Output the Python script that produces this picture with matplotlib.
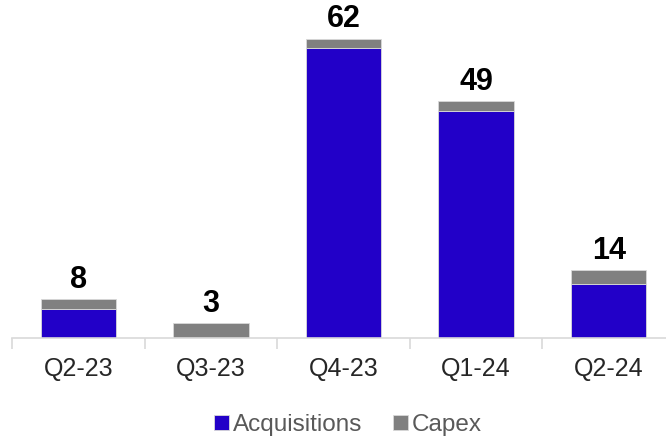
import matplotlib.pyplot as plt
import numpy as np

quarters = ['Q2-23', 'Q3-23', 'Q4-23', 'Q1-24', 'Q2-24']
acquisitions = [6, 0, 60, 47, 11]
capex = [2, 3, 2, 2, 3]
totals = [8, 3, 62, 49, 14]

blue = '#2200c8'
grey = '#808080'

plt.rcParams['font.family'] = ['Liberation Sans', 'DejaVu Sans']

fig = plt.figure(figsize=(6.66, 4.4), dpi=100)
# axis runs slightly past the right edge of the figure
ax = fig.add_axes([12 / 666, 102.5 / 440, 663 / 666, 337.5 / 440])

x = np.arange(len(quarters))
acq = np.array(acquisitions)
cap = np.array(capex)

ax.bar(x, acq, width=0.57, color=blue, edgecolor='#d9d9d9', linewidth=0.6,
       label='Acquisitions')
ax.bar(x, cap, width=0.57, bottom=acq, color=grey, edgecolor='#d9d9d9',
       linewidth=0.6, label='Capex')

for xi, t in zip(x, totals):
    ax.text(xi, acq[xi] + cap[xi] + 0.9, str(t), ha='center', va='bottom',
            fontsize=22, fontweight='bold', color='black')

ax.set_xlim(-0.5, 4.5)
ax.set_ylim(0, 70)
for s in ['top', 'right', 'left']:
    ax.spines[s].set_visible(False)
ax.spines['bottom'].set_color('#d9d9d9')
ax.spines['bottom'].set_linewidth(1.2)
ax.set_yticks([])

# category dividers below the axis
ax.set_xticks(np.arange(-0.5, 5, 1))
ax.set_xticklabels([])
ax.tick_params(axis='x', which='major', length=8, color='#d9d9d9', width=1.2)
ax.set_xticks(x, minor=True)
ax.set_xticklabels(quarters, minor=True)
ax.tick_params(axis='x', which='minor', length=0, pad=14, labelsize=18,
               labelcolor='#262626')

leg = fig.legend(loc='center', bbox_to_anchor=(348 / 666, 1 - 425 / 440),
                 ncol=2, frameon=False, fontsize=17.5, handlelength=0.6,
                 handleheight=0.6, handletextpad=0.15, columnspacing=1.3)
for txt in leg.get_texts():
    txt.set_color('#595959')

fig.savefig('out.png', dpi=100)
